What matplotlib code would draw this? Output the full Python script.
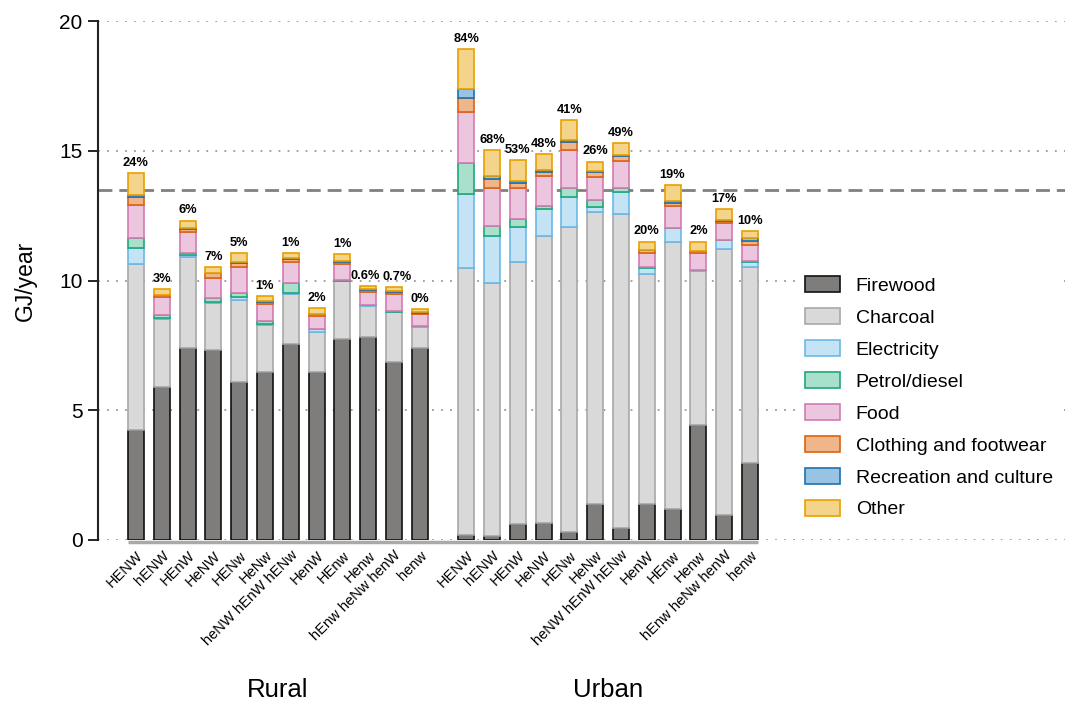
import matplotlib.pyplot as plt
import numpy as np
from matplotlib.transforms import blended_transform_factory

plt.rcParams['font.family'] = ['Liberation Sans', 'DejaVu Sans']

# household types (x tick labels), same order for both groups
types = ['HENW', 'hENW', 'HEnW', 'HeNW', 'HENw', 'HeNw', 'heNW hEnW hENw',
         'HenW', 'HEnw', 'Henw', 'hEnw heNw henW', 'henw']
groups = ['Rural', 'Urban']

categories = ['Firewood', 'Charcoal', 'Electricity', 'Petrol/diesel', 'Food',
              'Clothing and footwear', 'Recreation and culture', 'Other']

# GJ/year per category, rural bars then urban bars
firewood = [4.24, 5.91, 7.39, 7.32, 6.08, 6.49, 7.55, 6.49, 7.75, 7.84, 6.85, 7.39,
            0.19, 0.15, 0.62, 0.64, 0.32, 1.39, 0.45, 1.39, 1.18, 4.43, 0.96, 2.95]
charcoal = [6.40, 2.59, 3.50, 1.80, 3.17, 1.80, 1.92, 1.54, 2.23, 1.19, 1.92, 0.83,
            10.28, 9.77, 10.08, 11.09, 11.75, 11.26, 12.10, 8.85, 10.32, 5.95, 10.24, 7.56]
electricity = [0.60, 0.05, 0.11, 0.04, 0.13, 0.02, 0.03, 0.09, 0.02, 0.02, 0.02, 0.01,
               2.86, 1.81, 1.37, 1.03, 1.14, 0.20, 0.87, 0.23, 0.51, 0.03, 0.36, 0.22]
petrol = [0.41, 0.12, 0.05, 0.15, 0.15, 0.13, 0.39, 0.02, 0.01, 0.01, 0.05, 0.0,
          1.21, 0.37, 0.30, 0.12, 0.34, 0.25, 0.13, 0.06, 0.03, 0.01, 0.02, 0.01]
food = [1.26, 0.71, 0.83, 0.80, 0.98, 0.64, 0.84, 0.49, 0.61, 0.51, 0.63, 0.47,
        1.97, 1.48, 1.21, 1.15, 1.48, 0.90, 1.07, 0.54, 0.84, 0.63, 0.62, 0.63]
clothing = [0.30, 0.05, 0.12, 0.17, 0.18, 0.11, 0.10, 0.08, 0.11, 0.07, 0.10, 0.06,
            0.54, 0.33, 0.19, 0.16, 0.32, 0.17, 0.18, 0.10, 0.12, 0.09, 0.11, 0.15]
recreation = [0.08, 0.03, 0.03, 0.02, 0.02, 0.01, 0.02, 0.01, 0.01, 0.03, 0.03, 0.01,
              0.32, 0.13, 0.08, 0.07, 0.06, 0.05, 0.04, 0.02, 0.07, 0.01, 0.03, 0.11]
other = [0.84, 0.21, 0.28, 0.23, 0.36, 0.20, 0.22, 0.21, 0.27, 0.13, 0.16, 0.13,
         1.55, 0.99, 0.79, 0.60, 0.77, 0.36, 0.45, 0.31, 0.61, 0.35, 0.42, 0.29]

pct_labels = ['24%', '3%', '6%', '7%', '5%', '1%', '1%', '2%', '1%', '0.6%', '0.7%', '0%',
              '84%', '68%', '53%', '48%', '41%', '26%', '49%', '20%', '19%', '2%', '17%', '10%']

threshold = 13.5

series = [firewood, charcoal, electricity, petrol, food, clothing, recreation, other]
fills = ['#7f7d7c', '#d9d9d9', '#c4e3f5', '#a8e0cb', '#ecc6df', '#eeb68a', '#99c3e2', '#f4d48a']
edges = ['#111111', '#a8a8a8', '#6cb8e6', '#1fa77a', '#d27bb0', '#dc6210', '#1e72b0', '#e8a000']

n = len(types)
x = np.concatenate([np.arange(n), np.arange(n) + n + 0.8])
width = 0.62

fig = plt.figure(figsize=(10.7, 7.01), dpi=100)
ax = fig.add_axes([0.0916, 0.2297, 0.9034, 0.7403])

# grid and reference line
for g in [0, 5, 10, 15, 20]:
    ax.axhline(g, color='#9a9a9a', lw=1.3, ls=(0, (1, 4)), zorder=0)
ax.axhline(threshold, color='#808080', lw=2, dashes=(5, 2.5), zorder=1)

# baseline under the bars
ax.plot([x[0] - width / 2, x[-1] + width / 2], [-0.06, -0.06], color='#a9a9a9',
        lw=2.5, solid_capstyle='butt', clip_on=False, zorder=1)

bottom = np.zeros(len(x))
for vals, fc, ec, name in zip(series, fills, edges, categories):
    vals = np.array(vals)
    ax.bar(x, vals, width, bottom=bottom, color=fc, edgecolor=ec, lw=1.2,
           label=name, zorder=2)
    bottom += vals

# the two long neighbouring labels (0.6%, 0.7%) get pushed apart a little
nudge = {9: -2.2, 10: 2.2}
for i, (xi, top, lab) in enumerate(zip(x, bottom, pct_labels)):
    ax.annotate(lab, (xi, top), xytext=(nudge.get(i, 0), 3), textcoords='offset points',
                ha='center', va='bottom', fontsize=9.2, fontweight='bold')

ax.set_xlim(-1.47, 36.0)
ax.set_ylim(0, 20)
ax.set_yticks([0, 5, 10, 15, 20])
ax.tick_params(axis='y', labelsize=15, length=7, width=1.2, direction='out', pad=4)
ax.set_ylabel('GJ/year', fontsize=16.5, labelpad=16)

ax.set_xticks(x)
ax.set_xticklabels(types + types, rotation=45, ha='right', rotation_mode='anchor',
                   fontsize=10.5)
ax.tick_params(axis='x', length=0, pad=6)

for s in ['top', 'right', 'bottom']:
    ax.spines[s].set_visible(False)
ax.spines['left'].set_linewidth(1.5)
ax.spines['left'].set_color('#222222')

trans = blended_transform_factory(ax.transData, ax.transAxes)
for i, g in enumerate(groups):
    xs = x[i * n:(i + 1) * n]
    ax.text(xs.mean(), -0.289, g, transform=trans, ha='center', va='center', fontsize=18.5)

leg = ax.legend(loc='upper left', bbox_to_anchor=(0.738, 0.628), bbox_transform=fig.transFigure,
                fontsize=14, frameon=True, framealpha=1, edgecolor='none', borderpad=0.3,
                handlelength=1.8, handleheight=0.9, handletextpad=0.8, labelspacing=0.675)

fig.savefig('out.png', dpi=100)
